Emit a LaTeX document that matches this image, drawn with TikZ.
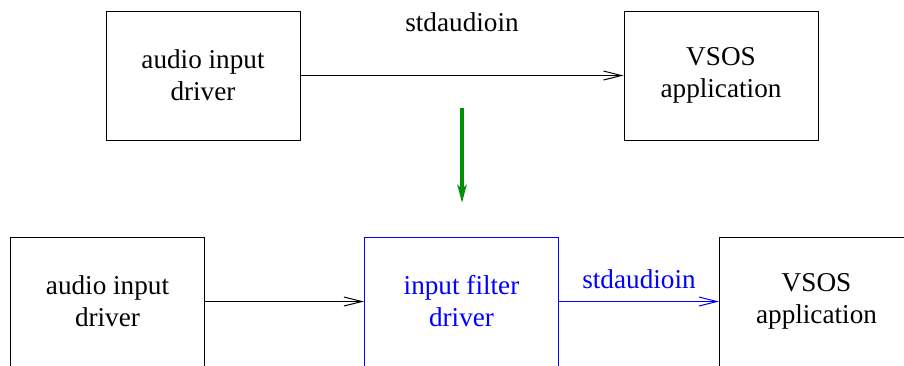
\documentclass[tikz,border=0pt]{standalone}
\usepackage{fontspec}
\setmainfont{Liberation Serif}
\usetikzlibrary{positioning, arrows.meta}

\definecolor{figgreen}{RGB}{0,144,0}

\begin{document}
\begin{tikzpicture}[
    x=0.5pt, y=-0.5pt,
    font=\rmfamily\fontsize{13.6}{16}\selectfont,
    drvbox/.style={draw, line width=0.5pt, minimum width=97pt, minimum height=64.5pt, align=center, inner sep=0pt},
    filtbox/.style={drvbox, draw=blue, text=blue},
    flow/.style={line width=0.5pt, -{Straight Barb[length=9pt, width=4.5pt]}},
    change/.style={figgreen, line width=1.8pt, -{Stealth[length=9pt, width=4.5pt, inset=2pt]}}
  ]

  \useasboundingbox (0,0) rectangle (904,365);

  % before
  \node[drvbox] (drvA) at (203,75.5) {audio input\\driver};
  \node[drvbox, right=161.5pt of drvA] (appA) {VSOS\\application};
  \draw[flow] (drvA) -- node[midway, above=18.5pt] (lblA) {stdaudioin} (appA);

  \coordinate (chgA) at (462,108);
  \coordinate (chgB) at (462,203);
  \draw[change] (chgA) -- (chgB);

  % after
  \node[drvbox] (drvB) at (107.5,301.5) {audio input\\driver};
  \node[filtbox, right=79.5pt of drvB] (filt) {input filter\\driver};
  \node[drvbox, right=80pt of filt] (appB) {VSOS\\application};
  \draw[flow] (drvB) -- (filt);
  \draw[flow, blue] (filt) -- node[midway, above=3pt, text=blue] (lblB) {stdaudioin} (appB);

\end{tikzpicture}
\end{document}
